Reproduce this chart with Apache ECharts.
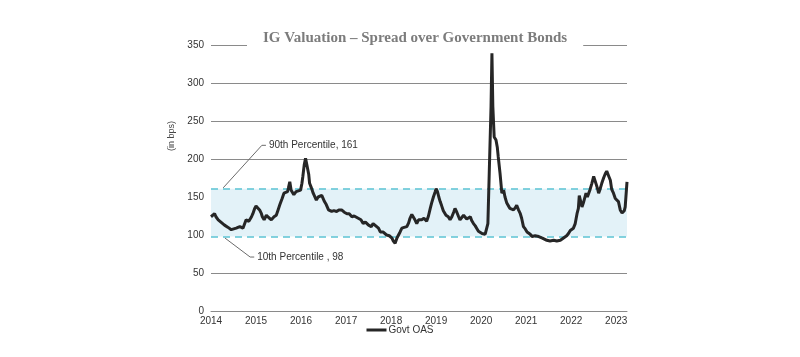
<!DOCTYPE html>
<html>
<head>
<meta charset="utf-8">
<script src="https://cdn.jsdelivr.net/npm/echarts@6/dist/echarts.min.js"></script>
<style>
html,body{margin:0;padding:0;background:#fff;}
#chart{width:800px;height:357px;}
</style>
</head>
<body>
<div id="chart"></div>
<script>
// Decimal year of each observation
var years = [
2014.00,2014.03,2014.08,2014.11,2014.16,2014.22,2014.30,2014.38,2014.45,2014.49,
2014.56,2014.60,2014.64,2014.71,2014.78,2014.84,2014.90,2014.93,2014.97,2015.00,
2015.04,2015.08,2015.12,2015.14,2015.18,2015.23,2015.28,2015.34,2015.40,2015.45,
2015.49,2015.53,2015.58,2015.62,2015.66,2015.70,2015.72,2015.75,2015.78,2015.84,
2015.89,2015.93,2015.99,2016.02,2016.04,2016.07,2016.10,2016.13,2016.17,2016.19,
2016.23,2016.27,2016.34,2016.38,2016.42,2016.46,2016.49,2016.52,2016.56,2016.61,
2016.68,2016.73,2016.79,2016.84,2016.90,2016.96,2017.02,2017.07,2017.13,2017.18,
2017.27,2017.33,2017.38,2017.43,2017.50,2017.56,2017.60,2017.64,2017.72,2017.76,
2017.82,2017.90,2017.96,2018.02,2018.05,2018.09,2018.13,2018.16,2018.20,2018.24,
2018.29,2018.35,2018.39,2018.42,2018.46,2018.50,2018.53,2018.57,2018.61,2018.68,
2018.73,2018.79,2018.83,2018.87,2018.90,2018.94,2018.98,2019.00,2019.03,2019.06,
2019.09,2019.12,2019.16,2019.22,2019.27,2019.31,2019.35,2019.39,2019.42,2019.46,
2019.50,2019.53,2019.57,2019.61,2019.64,2019.68,2019.72,2019.76,2019.79,2019.83,
2019.87,2019.90,2019.94,2019.98,2020.02,2020.05,2020.09,2020.13,2020.15,2020.16,
2020.18,2020.22,2020.24,2020.26,2020.29,2020.33,2020.36,2020.38,2020.42,2020.46,
2020.50,2020.53,2020.57,2020.61,2020.64,2020.68,2020.72,2020.76,2020.79,2020.83,
2020.87,2020.90,2020.94,2020.98,2021.02,2021.05,2021.09,2021.13,2021.16,2021.20,
2021.24,2021.28,2021.31,2021.36,2021.40,2021.46,2021.50,2021.53,2021.61,2021.64,
2021.68,2021.72,2021.76,2021.79,2021.83,2021.87,2021.90,2021.94,2021.98,2022.02,
2022.05,2022.09,2022.13,2022.16,2022.18,2022.22,2022.24,2022.27,2022.31,2022.33,
2022.36,2022.38,2022.42,2022.46,2022.50,2022.52,2022.56,2022.59,2022.61,2022.64,
2022.68,2022.72,2022.76,2022.79,2022.81,2022.83,2022.87,2022.90,2022.94,2022.98,
2023.02,2023.05,2023.09,2023.13,2023.16,2023.18,2023.20,2023.24
];
// Govt OAS, in bps
var govtOAS = [
124,122,128,124,120,117,113,110,107,106,
109,108,111,109,120,118,124,128,135,138,
137,133,128,124,120,126,123,120,124,126,
133,140,148,155,153,157,162,170,159,153,
157,155,159,168,177,192,201,192,180,168,
162,155,146,150,148,152,153,144,140,133,
131,132,131,133,133,130,128,128,124,125,
122,120,115,117,113,111,115,113,109,104,
104,100,99,96,92,89,96,98,104,109,
110,111,116,122,127,128,120,115,120,120,
122,118,125,135,142,150,157,161,157,150,
144,139,132,126,124,120,124,130,135,130,
124,120,118,126,124,121,121,124,119,115,
112,109,105,104,102,103,101,103,115,137,
181,269,339,269,229,225,215,203,181,155,
159,150,142,138,135,137,133,136,139,133,
128,122,111,108,104,102,101,98,100,99,
97,98,96,96,94,93,95,92,93,95,
92,90,93,94,96,95,99,102,106,104,
109,115,128,135,152,150,137,142,144,155,
150,152,160,168,177,175,166,160,155,160,
168,175,181,184,183,178,172,160,155,148,
146,144,133,129,130,132,137,170
];
var p90 = 161, p10 = 98;
var yTicks = [0, 50, 100, 150, 200, 250, 300, 350];
var xTickYears = [2014, 2015, 2016, 2017, 2018, 2019, 2020, 2021, 2022, 2023];
var p90Leader = [[2014.27, 162], [2015.13, 218], [2015.22, 218]];
var p10Leader = [[2014.31, 96], [2014.87, 71], [2014.96, 71]];
var p90Text = '90th Percentile, 161';
var p10Text = '10th Percentile , 98';

var data = years.map(function (y, i) { return [y, govtOAS[i]]; });
var chart = echarts.init(document.getElementById('chart'));
var font = '"Liberation Sans", Arial, sans-serif';

function leader(points, text) {
  return {
    type: 'line', data: points, symbol: 'none', silent: true, z: 4,
    lineStyle: { color: '#6b6b6b', width: 1 },
    endLabel: { show: true, formatter: text, color: '#333', fontSize: 10,
      fontFamily: font, distance: 3 },
    animation: false
  };
}

chart.setOption({
  animation: false,
  title: {
    text: 'IG Valuation \u2013 Spread over Government Bonds',
    left: 247, top: 27,
    padding: [4, 16, 6, 16],
    backgroundColor: '#fff',
    textStyle: { fontFamily: '"Liberation Serif", "DejaVu Serif", serif',
      fontWeight: 'bold', fontSize: 15, color: '#7c7c7c' }
  },
  grid: { left: 211, right: 173, top: 45, bottom: 46, containLabel: false },
  legend: {
    data: ['Govt OAS'], bottom: 17, left: 'center',
    icon: 'rect', itemWidth: 20, itemHeight: 3, itemGap: 2,
    textStyle: { fontSize: 10, color: '#333', fontFamily: font, padding: [0, 0, 0, -3] }
  },
  graphic: [{
    type: 'text', x: 172, y: 136, rotation: Math.PI / 2,
    style: { text: '(in bps)', font: '9px ' + font, fill: '#444',
      textAlign: 'center', textVerticalAlign: 'middle' }
  }],
  xAxis: {
    type: 'value', min: xTickYears[0], max: years[years.length - 1], interval: 1,
    axisLine: { show: true, lineStyle: { color: '#8a8a8a', width: 1 } },
    axisTick: { show: false }, splitLine: { show: false },
    axisLabel: { color: '#333', fontSize: 10, fontFamily: font, margin: 5,
      showMaxLabel: false,
      formatter: function (v) { return xTickYears.indexOf(v) >= 0 ? String(v) : ''; } }
  },
  yAxis: {
    type: 'value', min: yTicks[0], max: yTicks[yTicks.length - 1], interval: 50,
    axisLine: { show: false }, axisTick: { show: false },
    splitLine: { lineStyle: { color: '#8a8a8a', width: 1 } },
    axisLabel: { color: '#333', fontSize: 10, fontFamily: font, margin: 7 }
  },
  series: [
    {
      name: 'Govt OAS', type: 'line', data: data, symbol: 'none', z: 3,
      lineStyle: { color: '#262626', width: 3 },
      itemStyle: { color: '#262626' },
      markArea: { silent: true, z: 1,
        itemStyle: { color: '#e3f2f8' },
        data: [[{ yAxis: p10 }, { yAxis: p90 }]] },
      markLine: { silent: true, z: 2, symbol: 'none',
        label: { show: false },
        lineStyle: { color: '#5cc3d3', type: [7, 5], width: 1.5 },
        data: [{ yAxis: p90 }, { yAxis: p10 }] }
    },
    leader(p90Leader, p90Text),
    leader(p10Leader, p10Text)
  ]
});
</script>
</body>
</html>
